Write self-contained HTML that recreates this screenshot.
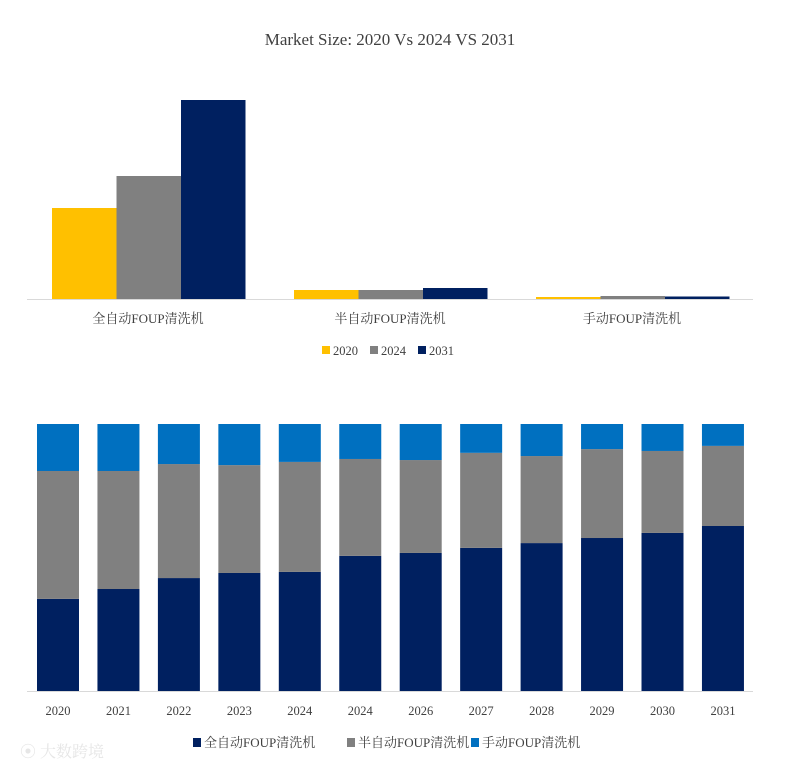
<!DOCTYPE html>
<html><head><meta charset="utf-8"><style>
body{margin:0;background:#fff;width:798px;height:771px;overflow:hidden;font-family:"Liberation Serif","Noto Serif CJK SC",serif}
svg text{font-family:"Liberation Serif","Noto Serif CJK SC",serif;fill:#404040}
</style></head><body>
<svg id="c" width="798" height="771">
<text x="390" y="45" text-anchor="middle" font-size="17">Market Size: 2020 Vs 2024 VS 2031</text>
<g id="topg"></g><g id="botg"></g>
<text x="20" y="757" font-size="16" style="fill:#e6e6e6">⦿ 大数跨境</text>
</svg>
<script>
const cats=["全自动FOUP清洗机","半自动FOUP清洗机","手动FOUP清洗机"];
const years=["2020","2024","2031"];
const v2020=[91,9,2];
const v2024=[123,9,3];
const v2031=[199,11,2.5];
const colsTop=["#FFC000","#808080","#002060"];
const years2=["2020","2021","2022","2023","2024","2024","2026","2027","2028","2029","2030","2031"];
const sAuto=[34.5,38.2,42.3,44.2,44.6,50.6,51.7,53.6,55.4,57.3,59.2,61.8];
const sSemi=[47.9,44.2,42.7,40.4,41.2,36.3,34.8,35.6,32.6,33.3,30.7,30.0];
const sManual=[17.6,17.6,15.0,15.4,14.2,13.1,13.5,10.8,12.0,9.4,10.1,8.2];
const names2=["全自动FOUP清洗机","半自动FOUP清洗机","手动FOUP清洗机"];
const cols2=["#002060","#808080","#0070C0"];
const NS="http://www.w3.org/2000/svg";
function mk(p,t,a){const e=document.createElementNS(NS,t);for(const k in a)e.setAttribute(k,a[k]);p.appendChild(e);return e;}
const topG=document.getElementById('topg');
const base1=299, yScale=v=>base1-v*1.0;
const gx=i=>27+i*242;
const series=[v2020,v2024,v2031];
cats.forEach((c,i)=>{
 series.forEach((s,j)=>{
  const y=yScale(s[i]);
  const r=mk(topG,'rect',{x:gx(i)+25+j*64.5,y:y,width:64.5,height:base1-y,fill:colsTop[j]});
  
  
 });
 const t=mk(topG,'text',{x:gx(i)+121,y:323,'text-anchor':'middle','font-size':'13'});t.textContent=c;
 
 
});
const ax1=mk(topG,'line',{x1:27,x2:753,y1:299.5,y2:299.5,stroke:'#d9d9d9'});


years.forEach((y,j)=>{
 const lx=322+j*48;
 const r=mk(topG,'rect',{x:lx,y:346,width:8,height:8,fill:colsTop[j]});
 
 
 const t=mk(topG,'text',{x:lx+11,y:355,'font-size':'12.5'});t.textContent=y;
 
 
});
const botG=document.getElementById('botg');
const base2=691,H=267;
const bx=i=>37+i*60.45;
const ss=[sAuto,sSemi,sManual];
years2.forEach((y,i)=>{
 const tot=sAuto[i]+sSemi[i]+sManual[i];let acc=0;
 ss.forEach((s,j)=>{
  const h=s[i]/tot*H;const yy=base2-acc-h;acc+=h;
  const r=mk(botG,'rect',{x:bx(i),y:yy,width:42,height:h,fill:cols2[j]});
  
  
 });
 const t=mk(botG,'text',{x:bx(i)+21,y:715,'text-anchor':'middle','font-size':'12.5'});t.textContent=y;
 
 
});
const ax2=mk(botG,'line',{x1:27,x2:753,y1:691.5,y2:691.5,stroke:'#d9d9d9'});


const lxs=[193,347,471];
names2.forEach((n,j)=>{
 const r=mk(botG,'rect',{x:lxs[j],y:738,width:8,height:9,fill:cols2[j]});
 
 
 const t=mk(botG,'text',{x:lxs[j]+11,y:747,'font-size':'13'});t.textContent=n;
 
 
});
</script>
</body></html>
